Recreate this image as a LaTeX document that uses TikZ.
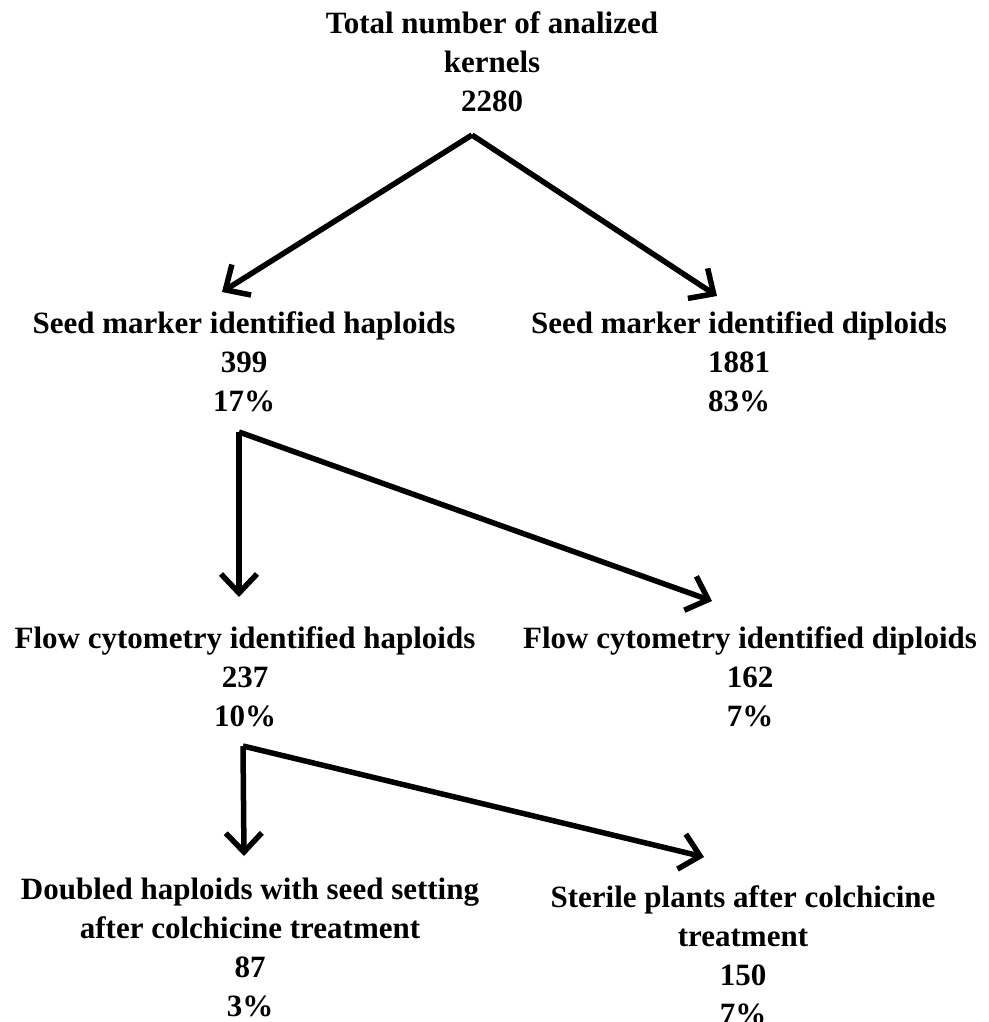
\documentclass[tikz,border=0pt]{standalone}
\usepackage{fontspec}
\setmainfont{Liberation Serif}
\usetikzlibrary{arrows.meta}
\begin{document}
\begin{tikzpicture}[x=1pt,y=-1pt,
  lbl/.style={align=center,inner sep=0pt,font=\bfseries\fontsize{31}{39}\selectfont},
  arr/.style={line width=5.5pt,-{Straight Barb[length=19pt,width=36pt,line width=5.5pt]}}]
\useasboundingbox (0,0) rectangle (988,1022);
\node[lbl] (top) at (492,62) {Total number of analized\\kernels\\2280};
\node[lbl] (smh) at (244,362) {Seed marker identified haploids\\399\\17\%};
\node[lbl] (smd) at (739,362) {Seed marker identified diploids\\1881\\83\%};
\node[lbl] (fch) at (245,677) {Flow cytometry identified haploids\\237\\10\%};
\node[lbl] (fcd) at (750,677) {Flow cytometry identified diploids\\162\\7\%};
\node[lbl] (dh) at (250,947) {Doubled haploids with seed setting\\after colchicine treatment\\87\\3\%};
\node[lbl] (sp) at (743,955) {Sterile plants after colchicine\\treatment\\150\\7\%};
\coordinate (a0) at (472,135);
\coordinate (a1) at (222,292);
\coordinate (a2) at (717,296);
\coordinate (b0) at (239,432);
\coordinate (b1) at (239,597);
\coordinate (b2) at (712,601);
\coordinate (c0) at (243,746);
\coordinate (c1) at (244,856);
\coordinate (c2) at (704,857);
\draw[arr] (a0) -- (a1);
\draw[arr] (a0) -- (a2);
\draw[arr] (b0) -- (b1);
\draw[arr] (b0) -- (b2);
\draw[arr] (c0) -- (c1);
\draw[arr] (c0) -- (c2);
\end{tikzpicture}
\end{document}
